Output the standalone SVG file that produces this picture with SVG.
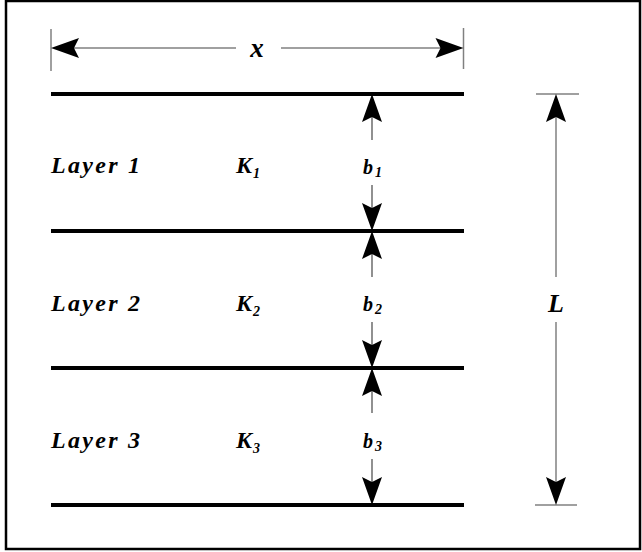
<svg xmlns="http://www.w3.org/2000/svg" width="642" height="552" viewBox="0 0 642 552">
<style>
.lbl{font-family:"Liberation Serif","Times New Roman",serif;font-weight:bold;font-style:italic;fill:#000}
.big{font-size:24px;letter-spacing:2.3px}
.sub{font-size:14px;letter-spacing:0}
.dim{stroke:#808080;stroke-width:1.5;fill:none}
.dimc{stroke:#555;stroke-width:1.3;fill:none}
.layer{stroke:#000;stroke-width:4;fill:none}
</style>
<defs>
<path id="ah" d="M0,0 L-10,28 L0,23 L10,28 Z" fill="#000"/>
</defs>
<rect x="6" y="1" width="634" height="548" fill="#fff" stroke="#000" stroke-width="2.5"/>
<g id="layer-lines">
<line class="layer" x1="51" y1="94" x2="464" y2="94"/>
<line class="layer" x1="51" y1="231" x2="464" y2="231"/>
<line class="layer" x1="51" y1="368" x2="464" y2="368"/>
<line class="layer" x1="51" y1="505" x2="464" y2="505"/>
</g>
<g id="connectors">
<line class="dim" x1="51" y1="29" x2="51" y2="71"/>
<line class="dim" x1="463.5" y1="28" x2="463.5" y2="69"/>
<line class="dim" x1="70" y1="48" x2="236" y2="48"/>
<line class="dim" x1="281" y1="48" x2="445" y2="48"/>
<use href="#ah" transform="translate(51,48) rotate(-90)"/>
<use href="#ah" transform="translate(463.5,48) rotate(90)"/>
<line class="dim" x1="536" y1="94" x2="579" y2="94"/>
<line class="dim" x1="535" y1="505" x2="577" y2="505"/>
<line class="dim" x1="556" y1="115" x2="556" y2="277"/>
<line class="dim" x1="556" y1="322" x2="556" y2="485"/>
<use href="#ah" transform="translate(556,94)"/>
<use href="#ah" transform="translate(556,505) rotate(180)"/>
<line class="dimc" x1="372" y1="115" x2="372" y2="140"/>
<line class="dimc" x1="372" y1="185" x2="372" y2="210"/>
<use href="#ah" transform="translate(372,94)"/>
<use href="#ah" transform="translate(372,231) rotate(180)"/>
<line class="dimc" x1="372" y1="252" x2="372" y2="277"/>
<line class="dimc" x1="372" y1="322" x2="372" y2="347"/>
<use href="#ah" transform="translate(372,231)"/>
<use href="#ah" transform="translate(372,368) rotate(180)"/>
<line class="dimc" x1="372" y1="389" x2="372" y2="413"/>
<line class="dimc" x1="372" y1="459" x2="372" y2="484"/>
<use href="#ah" transform="translate(372,368)"/>
<use href="#ah" transform="translate(372,505) rotate(180)"/>
</g>
<g id="label-x"><text class="lbl" x="257" y="57" font-size="27" text-anchor="middle">x</text></g>
<g id="label-L"><text class="lbl" x="556" y="312" font-size="26" text-anchor="middle">L</text></g>
<g id="layer1">
<text class="lbl big" x="51" y="173">Layer 1</text>
<text class="lbl" x="236" y="173" font-size="24">K<tspan class="sub" dx="1" dy="5">1</tspan></text>
<text class="lbl" x="363" y="174" font-size="20">b<tspan class="sub" font-size="12" dx="2" dy="3">1</tspan></text>
</g>
<g id="layer2">
<text class="lbl big" x="51" y="311">Layer 2</text>
<text class="lbl" x="236" y="311" font-size="24">K<tspan class="sub" dx="1" dy="5">2</tspan></text>
<text class="lbl" x="363" y="311" font-size="20">b<tspan class="sub" font-size="12" dx="2" dy="3">2</tspan></text>
</g>
<g id="layer3">
<text class="lbl big" x="51" y="448">Layer 3</text>
<text class="lbl" x="236" y="448" font-size="24">K<tspan class="sub" dx="1" dy="5">3</tspan></text>
<text class="lbl" x="363" y="448" font-size="20">b<tspan class="sub" font-size="12" dx="2" dy="3">3</tspan></text>
</g>
</svg>
